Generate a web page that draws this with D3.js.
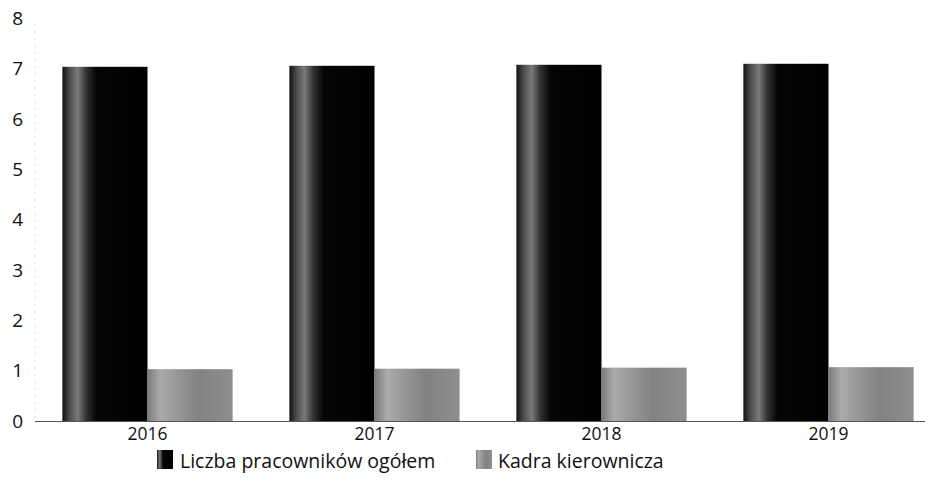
<!DOCTYPE html>
<html><head><meta charset="utf-8">
<script src="https://cdn.jsdelivr.net/npm/d3@7"></script>
<style>body{margin:0;background:#fff}svg{display:block}text{font-family:"Open Sans",sans-serif}</style>
</head><body><svg id="c" width="928" height="497"></svg>
<script>
const categories = ["2016","2017","2018","2019"];
const seriesNames = ["Liczba pracowników ogółem","Kadra kierownicza"];
const totalEmployees = [7.04, 7.06, 7.08, 7.10];
const management = [1.03, 1.04, 1.06, 1.07];
const yTicks = [0,1,2,3,4,5,6,7,8];

const svg = d3.select("#c");
const defs = svg.append("defs");
function grad(id, stops){
  const g = defs.append("linearGradient").attr("id", id).attr("x1","0").attr("x2","1").attr("y1","0").attr("y2","0");
  stops.forEach(s => g.append("stop").attr("offset", s[0]).attr("stop-color", s[1]));
}
grad("gBlack", [[0,"#111"],[0.08,"#4a4a4a"],[0.18,"#7a7a7a"],[0.28,"#333"],[0.4,"#050505"],[1,"#000"]]);
grad("gGray", [[0,"#7a7a7a"],[0.15,"#ababab"],[0.3,"#9c9c9c"],[0.6,"#828282"],[1,"#8e8e8e"]]);
const fills = ["url(#gBlack)","url(#gGray)"];

const x = d3.scaleBand().domain(categories).range([34, 942]).paddingInner(0.25).paddingOuter(0.125);
const x1 = d3.scaleBand().domain([0,1]).range([0, x.bandwidth()]);
const y = d3.scaleLinear().domain([0,8]).range([421, 18.5]);

// faint dotted y-axis
svg.append("line").attr("x1",35).attr("x2",35).attr("y1",y(8)+6).attr("y2",y(0))
  .attr("stroke","#bbb").attr("stroke-dasharray","1,6");

const yAxis = d3.axisLeft(y).tickValues(yTicks).tickSize(0).tickPadding(0).tickFormat(d3.format("d"));
const ya = svg.append("g").attr("transform","translate(23,0)").call(yAxis);
ya.select(".domain").remove();
ya.selectAll("text").attr("font-size",19).attr("fill","#111");

const data = categories.map((c,i)=>({c, v:[totalEmployees[i], management[i]]}));
const g = svg.append("g");
data.forEach(d=>{
  d.v.forEach((v,j)=>{
    g.append("rect").attr("x", x(d.c)+x1(j)).attr("width", x1.bandwidth())
      .attr("y", y(v)).attr("height", y(0)-y(v)).attr("fill", fills[j]);
  });
});

// x axis
const xAxis = d3.axisBottom(x).tickSize(0).tickPadding(7);
const xa = svg.append("g").attr("transform",`translate(0,${y(0)})`).call(xAxis);
xa.select(".domain").remove();
xa.selectAll("text").attr("font-size",17.5).attr("fill","#111");
svg.append("line").attr("x1",35).attr("x2",925).attr("y1",y(0)+0.5).attr("y2",y(0)+0.5)
  .attr("stroke","#555").attr("stroke-width",1.2);

// legend
const leg = [{x:157, tx:180},{x:476, tx:498}];
seriesNames.forEach((n,j)=>{
  svg.append("rect").attr("x",leg[j].x).attr("y",450).attr("width",16).attr("height",19).attr("fill",fills[j]);
  svg.append("text").attr("x",leg[j].tx).attr("y",468).attr("font-size",19.5).attr("fill","#111").text(n);
});
</script></body></html>
